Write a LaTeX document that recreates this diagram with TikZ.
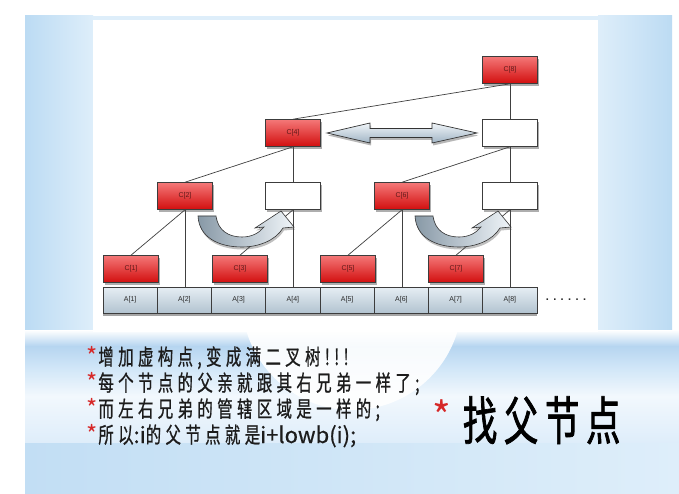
\documentclass[tikz,border=0pt]{standalone}
\usepackage{fontspec}
\setsansfont{Liberation Sans}
\newfontfamily\cjkline[FakeStretch=0.70,LetterSpace=20,FakeBold=0.8]{Noto Sans CJK SC}
\newfontfamily\latinline[FakeBold=0.6]{Noto Sans CJK SC}
\newfontfamily\cjktitle[FakeStretch=0.66,LetterSpace=13,FakeBold=1.4]{Noto Sans CJK SC}
\newfontfamily\starfont{Noto Sans CJK SC}
\newfontfamily\dotfont[LetterSpace=40]{Liberation Sans}
\usetikzlibrary{shadows}
\definecolor{bgA}{RGB}{188,219,243}
\definecolor{bgB}{RGB}{222,238,250}
\definecolor{bandA}{RGB}{182,213,240}
\definecolor{bandB}{RGB}{210,231,248}
\definecolor{bandC}{RGB}{242,248,253}
\definecolor{bandD}{RGB}{222,237,250}
\definecolor{bandE}{RGB}{194,222,244}
\definecolor{bandF}{RGB}{222,238,250}
\definecolor{redtop}{RGB}{244,120,120}
\definecolor{redbot}{RGB}{210,14,14}
\definecolor{redtext}{RGB}{95,25,25}
\definecolor{boxline}{RGB}{60,60,60}
\definecolor{atop}{RGB}{230,238,244}
\definecolor{abot}{RGB}{178,195,208}
\definecolor{atext}{RGB}{40,40,40}
\definecolor{arrtop}{RGB}{240,245,249}
\definecolor{arrbot}{RGB}{160,180,196}
\definecolor{starred}{RGB}{214,40,40}
\definecolor{textdark}{RGB}{28,28,28}
\pgfdeclarelayer{back}
\pgfdeclarelayer{lines}
\pgfsetlayers{back,lines,main}
\newcommand\staritem{{\starfont\fontsize{24}{24}\selectfont\color{starred}*}\hspace{1pt}}
\newcommand\lat[1]{{\latinline #1}}
\begin{document}
\begin{tikzpicture}[x=1pt,y=-1pt,
  boxshadow/.style={drop shadow={shadow xshift=1pt,shadow yshift=-2.5pt,opacity=0.45,fill=black!70}},
  redbox/.style={draw=boxline,line width=0.6pt,top color=redtop,bottom color=redbot,
    minimum width=55pt,minimum height=27pt,inner sep=0pt,
    font=\sffamily\fontsize{7}{8}\selectfont,text=redtext,boxshadow},
  emptybox/.style={draw=boxline,line width=0.6pt,fill=white,
    minimum width=55pt,minimum height=27pt,inner sep=0pt,boxshadow},
  acell/.style={draw=boxline,line width=0.6pt,top color=atop,bottom color=abot,
    minimum width=54.25pt,minimum height=26pt,inner sep=0pt,
    font=\sffamily\fontsize{7}{8}\selectfont,text=atext,
    drop shadow={shadow xshift=0pt,shadow yshift=-3pt,opacity=0.5,fill=black!70}},
  conn/.style={draw=black!75,line width=0.7pt},
  blockarrow/.style={draw=black!80,line width=0.7pt,top color=arrtop,bottom color=arrbot,
    drop shadow={shadow xshift=1pt,shadow yshift=-2.5pt,opacity=0.4,fill=black!70}},
  curvearrow/.style={draw=black!80,line width=0.6pt,left color=black!15!arrbot,right color=arrtop,
    drop shadow={shadow xshift=1pt,shadow yshift=-2.5pt,opacity=0.35,fill=black!70}},
  bullet/.style={anchor=base west,inner sep=0pt,text=textdark,font=\cjkline\fontsize{22}{24}\selectfont}
]
\useasboundingbox (0,0) rectangle (679,494);
% ---------- background ----------
\begin{pgfonlayer}{back}
\fill[white] (0,0) rectangle (679,494);
\shade[left color=bgA,right color=bgB] (25,16) rectangle (93,332);
\shade[left color=bgB,right color=bgA] (598,16) rectangle (672,332);
\fill[bgB] (93,16) rectangle (598,20);
\shade[top color=white,bottom color=bandA] (25,330) rectangle (679,346);
\shade[top color=bandA,bottom color=bandB] (25,346) rectangle (679,369);
\shade[top color=bandB,bottom color=bandC] (25,369) rectangle (679,396);
\shade[top color=bandC,bottom color=bandD] (25,396) rectangle (679,443);
\shade[left color=bandE,right color=bandF] (25,443) rectangle (679,494);
\fill[white,opacity=0.9] (352,300) circle (110pt);
\fill[white] (93,20) rectangle (598,332);
\end{pgfonlayer}
% ---------- tree nodes ----------
\node[redbox] (c8) at (510,70) {C[8]};
\node[redbox] (c4) at (293,133) {C[4]};
\node[emptybox] (e4) at (510,133) {};
\node[redbox] (c2) at (185,196) {C[2]};
\node[emptybox] (e2) at (293,196) {};
\node[redbox] (c6) at (402,196) {C[6]};
\node[emptybox] (e6) at (510,196) {};
\node[redbox] (c1) at (131,269) {C[1]};
\node[redbox] (c3) at (240,269) {C[3]};
\node[redbox] (c5) at (348,269) {C[5]};
\node[redbox] (c7) at (456,269) {C[7]};
\foreach \i in {1,...,8}{
  \node[acell] (a\i) at ({103+27.125+54.25*(\i-1)},300) {A[\i]};
}
\node[font=\dotfont\bfseries\fontsize{11}{11}\selectfont,text=black!85,inner sep=0pt] (dots) at (566,300) {......};
% ---------- connectors ----------
\begin{pgfonlayer}{lines}
\draw[conn] (c8.south) -- (c4.north);
\draw[conn] (c8.south) -- (e4.north);
\draw[conn] (c4.south) -- (c2.north);
\draw[conn] (c4.south) -- (e2.north);
\draw[conn] (e4.south) -- (c6.north);
\draw[conn] (e4.south) -- (e6.north);
\draw[conn] (c2.south) -- (c1.north);
\draw[conn] (c2.south) -- (c2.south |- a2.north);
\draw[conn] (e2.south) -- (c3.north);
\draw[conn] (e2.south) -- (e2.south |- a4.north);
\draw[conn] (c6.south) -- (c5.north);
\draw[conn] (c6.south) -- (c6.south |- a6.north);
\draw[conn] (e6.south) -- (c7.north);
\draw[conn] (e6.south) -- (e6.south |- a8.north);
\end{pgfonlayer}
% ---------- block arrows ----------
\path[blockarrow] (327,133) -- (370,123) -- (370,128.5) -- (432,128.5) -- (432,123)
  -- (477,133) -- (432,143) -- (432,137.5) -- (370,137.5) -- (370,143) -- cycle;
\foreach \s in {0,217}{
\path[curvearrow,shift={(\s,0)}] (198,216) -- (216,216)
  .. controls (218,231) and (229,237) .. (242,237)
  .. controls (252,237) and (259,233) .. (264,227)
  -- (255,228) -- (281,211) -- (294,227) -- (283,228)
  .. controls (275,241) and (258,247) .. (242,247)
  .. controls (218,247) and (199,237) .. (198,216) -- cycle;
}
% ---------- text ----------
\node[bullet] (l1) at (86,365) {\staritem 增加虚构点,变成满二叉树!!!};
\node[bullet] (l2) at (86,391) {\staritem 每个节点的父亲就跟其右兄弟一样了;};
\node[bullet] (l3) at (86,417) {\staritem 而左右兄弟的管辖区域是一样的;};
\node[bullet] (l4) at (86,443) {\staritem 所以\lat{:i}的父节点就是\lat{i+lowb(i);}};
\node[anchor=base west,inner sep=0pt,text=black,font=\cjktitle\fontsize{52}{56}\selectfont] (title) at (432,440) {\raisebox{9pt}{\starfont\fontsize{40}{40}\selectfont\color{starred}*}\hspace{12pt}找父节点};
\end{tikzpicture}
\end{document}
